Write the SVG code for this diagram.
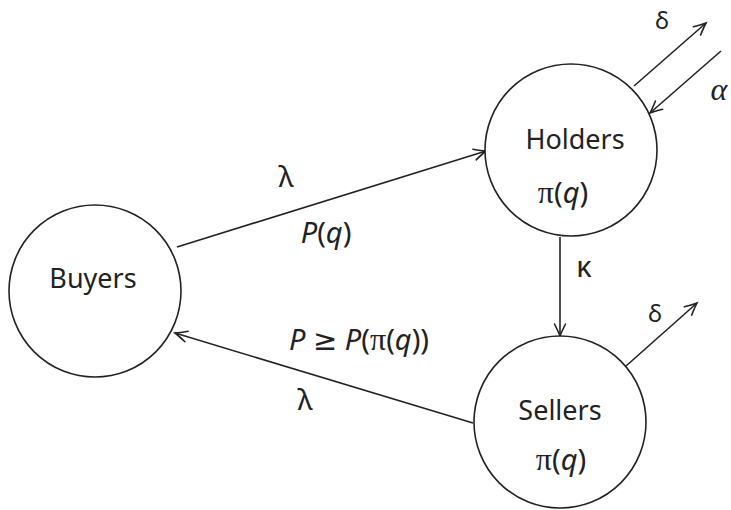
<svg xmlns="http://www.w3.org/2000/svg" width="731" height="510" viewBox="0 0 731 510">
<style>
.node circle{fill:#fff;stroke:#222;stroke-width:1.6}
text{font-family:"Noto Sans","DejaVu Sans",sans-serif;fill:#222;text-anchor:middle}
.lbl{font-size:27px}
.m{font-size:29px}
.d{font-size:24px}
.it{font-style:italic}
.pi{font-family:"Liberation Serif","DejaVu Serif",serif;font-style:normal;font-size:32px}
.al{font-family:"Liberation Serif","DejaVu Serif",serif;font-style:italic;font-size:32px}
#edges line{stroke:#222;stroke-width:1.6;fill:none}
.arr{marker-end:url(#ah)}
</style>
<defs>
<marker id="ah" markerUnits="userSpaceOnUse" viewBox="-14 -8 16 16" markerWidth="16" markerHeight="16" refX="0" refY="0" orient="auto" overflow="visible">
<path d="M-12,-5.5 Q-4,-1.5 0,0 Q-4,1.5 -12,5.5" fill="none" stroke="#222" stroke-width="1.6" stroke-linecap="round"/>
</marker>
</defs>
<g id="edges">
<line class="arr" x1="177" y1="247" x2="486" y2="151"/>
<line class="arr" x1="473" y1="423" x2="175" y2="333"/>
<line class="arr" x1="560" y1="237" x2="560" y2="336"/>
<line class="arr" x1="634" y1="86" x2="706" y2="23"/>
<line class="arr" x1="721" y1="51" x2="650" y2="113"/>
<line class="arr" x1="626" y1="366" x2="697" y2="303"/>
</g>
<g id="labels">
<text class="m" x="286" y="187">λ</text>
<text class="m" x="326" y="243"><tspan class="it">P</tspan>(<tspan class="it">q</tspan>)</text>
<text class="m" x="359" y="350"><tspan class="it">P</tspan> ≥ <tspan class="it">P</tspan>(<tspan class="pi">π</tspan>(<tspan class="it">q</tspan>))</text>
<text class="m" x="305" y="410">λ</text>
<text class="m" x="584" y="277">κ</text>
<text class="d" x="655" y="322">δ</text>
<text class="d" x="662" y="29">δ</text>
<text class="al" x="719" y="100">α</text>
</g>
<g id="buyers" class="node">
<circle cx="95" cy="291" r="86"/>
<text class="lbl" x="93" y="288">Buyers</text>
</g>
<g id="holders" class="node">
<circle cx="571" cy="150" r="86"/>
<text class="lbl" x="575" y="149">Holders</text>
<text class="m" x="563" y="203"><tspan class="pi">π</tspan>(<tspan class="it">q</tspan>)</text>
</g>
<g id="sellers" class="node">
<circle cx="560" cy="422" r="86"/>
<text class="lbl" x="560" y="420">Sellers</text>
<text class="m" x="561" y="470"><tspan class="pi">π</tspan>(<tspan class="it">q</tspan>)</text>
</g>
</svg>
